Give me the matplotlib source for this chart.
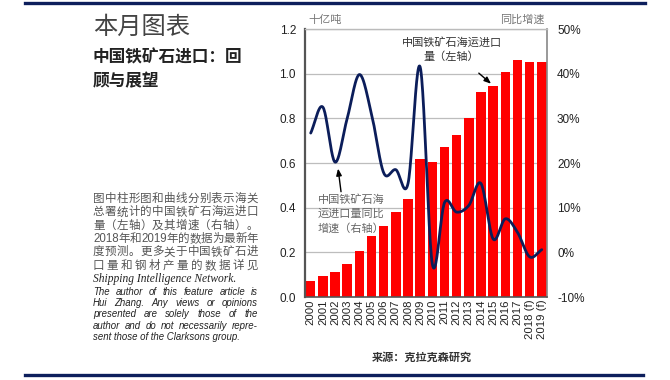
import numpy as np
import matplotlib
matplotlib.use('Agg')
import matplotlib.pyplot as plt
from matplotlib.lines import Line2D

# ---------------- data ----------------
years = ['2000', '2001', '2002', '2003', '2004', '2005', '2006', '2007', '2008', '2009',
         '2010', '2011', '2012', '2013', '2014', '2015', '2016', '2017', '2018 (f)', '2019 (f)']
imports_bn_t = [0.072, 0.095, 0.113, 0.149, 0.207, 0.271, 0.319, 0.379, 0.438, 0.617,
                0.603, 0.671, 0.725, 0.803, 0.916, 0.943, 1.008, 1.062, 1.052, 1.052]
growth_pct = [26.7, 32.5, 20.2, 30.0, 39.8, 31.0, 17.8, 18.5, 15.4, 41.5,
              -2.6, 11.1, 9.0, 10.5, 15.4, 3.0, 7.5, 4.5, -1.0, 0.6]
left_ticks = [0.0, 0.2, 0.4, 0.6, 0.8, 1.0, 1.2]
right_ticks = [-10, 0, 10, 20, 30, 40, 50]

plt.rcParams['font.family'] = ['Liberation Sans', 'Noto Sans CJK SC', 'DejaVu Sans']

W, H = 670, 380
fig = plt.figure(figsize=(6.7, 3.8), dpi=100)
fig.patch.set_facecolor('white')

def fx(px):
    return px / W

def fy(py):
    return 1 - py / H

# ---------------- chart ----------------
ax = fig.add_axes([fx(305), fy(297), fx(547) - fx(305), fy(29) - fy(297)])
x = np.arange(len(years))
ax.bar(x, imports_bn_t, width=0.78, color='#ff0000', zorder=2)
ax.set_xlim(-0.47, 19.43)
ax.set_ylim(0, 1.2)
ax.set_yticks(left_ticks)
ax.set_yticklabels(['%.1f' % v for v in left_ticks])
ax.set_xticks(x)
ax.set_xticklabels(years, rotation=90, fontsize=8.2, color='#222222')
ax.grid(axis='y', color='#bdbdbd', lw=0.9, zorder=0)
ax.set_axisbelow(True)
ax.tick_params(axis='y', length=0, pad=6.5, labelsize=8.5, labelcolor='#222222')
ax.tick_params(axis='x', length=0, pad=2)
ax.spines['left'].set_color('#555555')
ax.spines['left'].set_linewidth(1.6)
ax.spines['bottom'].set_color('#555555')
ax.spines['bottom'].set_linewidth(1.2)
ax.spines['top'].set_color('#bbbbbb')
ax.spines['top'].set_linewidth(1.0)
ax.spines['right'].set_color('#888888')
ax.spines['right'].set_linewidth(1.2)

ax2 = ax.twinx()
ax2.set_ylim(-10, 50)
ax2.set_yticks(right_ticks)
ax2.set_yticklabels(['%d%%' % v for v in right_ticks])
ax2.tick_params(axis='y', length=0, pad=7.2, labelsize=8.5, labelcolor='#222222')
for s in ax2.spines.values():
    s.set_visible(False)


def catmull_rom(xs, ys, n=24):
    pts = np.column_stack([xs, ys]).astype(float)
    P = np.vstack([2 * pts[0] - pts[1], pts, 2 * pts[-1] - pts[-2]])
    out = []
    t = np.linspace(0, 1, n, endpoint=False)[:, None]
    for i in range(1, len(P) - 2):
        p0, p1, p2, p3 = P[i - 1], P[i], P[i + 1], P[i + 2]
        seg = 0.5 * ((2 * p1) + (-p0 + p2) * t + (2 * p0 - 5 * p1 + 4 * p2 - p3) * t ** 2
                     + (-p0 + 3 * p1 - 3 * p2 + p3) * t ** 3)
        out.append(seg)
    out.append(pts[-1:])
    return np.vstack(out)

curve = catmull_rom(x, growth_pct)
ax2.plot(curve[:, 0], curve[:, 1], color='#0b1d5a', lw=2.0, solid_capstyle='round', zorder=5)

# annotations
ax.annotate('中国铁矿石海运进口\n量（左轴）', xy=(14.83, 0.955), xytext=(11.6, 1.107),
            ha='center', va='center', fontsize=8, color='#333333', linespacing=1.4,
            arrowprops=dict(arrowstyle='-|>,head_length=0.5,head_width=0.2', color='black',
                            lw=1.0, shrinkA=9, shrinkB=0), zorder=6)
ax.annotate('中国铁矿石海\n运进口量同比\n增速（右轴）', xy=(2.25, 0.575), xytext=(0.6, 0.371),
            ha='left', va='center', fontsize=8, color='#666666', linespacing=1.45,
            arrowprops=dict(arrowstyle='-|>,head_length=0.5,head_width=0.2', color='black',
                            lw=1.0, shrinkA=0, shrinkB=0, relpos=(0.35, 1.0)), zorder=6)

fig.text(fx(308), fy(20), '十亿吨', ha='left', va='center', fontsize=8, color='#777777')
fig.text(fx(545), fy(20), '同比增速', ha='right', va='center', fontsize=8, color='#777777')
fig.text(fx(422), fy(358), '来源：克拉克森研究', ha='center', va='center', fontsize=8,
         fontweight='bold', color='#333333')

# navy rules
fig.add_artist(Line2D([fx(25), fx(645)], [fy(3), fy(3)], color='#0d1f5c', lw=2.4))
fig.add_artist(Line2D([fx(25), fx(643)], [fy(375), fy(375)], color='#0d1f5c', lw=2.4))

# ---------------- left text ----------------
fig.text(fx(93), fy(28), '本月图表', ha='left', va='center', fontsize=17.5, color='#444444')
fig.text(fx(93), fy(57), '中国铁矿石进口：回', ha='left', va='center', fontsize=12,
         fontweight='bold', color='#222222')
fig.text(fx(93), fy(81), '顾与展望', ha='left', va='center', fontsize=12,
         fontweight='bold', color='#222222')

renderer = fig.canvas.get_renderer()


def tokens_cjk(s):
    toks, buf = [], ''
    for ch in s:
        if ch.isascii() and ch.isalnum():
            buf += ch
        else:
            if buf:
                toks.append(buf)
                buf = ''
            toks.append(ch)
    if buf:
        toks.append(buf)
    return toks


def justify(tokens, x0, x1, y, **kw):
    texts = [fig.text(0, fy(y), t, ha='left', va='center', **kw) for t in tokens]
    widths = [t.get_window_extent(renderer).width for t in texts]
    gap = (x1 - x0 - sum(widths)) / max(len(tokens) - 1, 1)
    pos = x0
    for t, w in zip(texts, widths):
        t.set_x(fx(pos))
        pos += w + gap

cn_lines = ['图中柱形图和曲线分别表示海关', '总署统计的中国铁矿石海运进口',
            '量（左轴）及其增速（右轴）。', '2018年和2019年的数据为最新年',
            '度预测。更多关于中国铁矿石进', '口量和钢材产量的数据详见']
cn_y = [199, 212.3, 225.7, 239, 252.3, 265.7]
for s, yy in zip(cn_lines, cn_y):
    justify(tokens_cjk(s), 93, 258, yy, fontsize=8.3, color='#555555')

fig.text(fx(93), fy(279.3), 'Shipping Intelligence Network.', ha='left', va='center',
         fontsize=8.3, family='Liberation Serif', style='italic', color='#222222')

en_lines = ['The author of this feature article is', 'Hui Zhang. Any views or opinions',
            'presented are solely those of the', 'author and do not necessarily repre-']
en_y = [292.3, 303.3, 314.3, 325.7]
for s, yy in zip(en_lines, en_y):
    justify(s.split(' '), 93, 258, yy, fontsize=6.9, style='italic', color='#222222')
fig.text(fx(93), fy(336.7), 'sent those of the Clarksons group.', ha='left', va='center',
         fontsize=6.9, style='italic', color='#222222')

fig.savefig('out.png', dpi=100, facecolor='white')
